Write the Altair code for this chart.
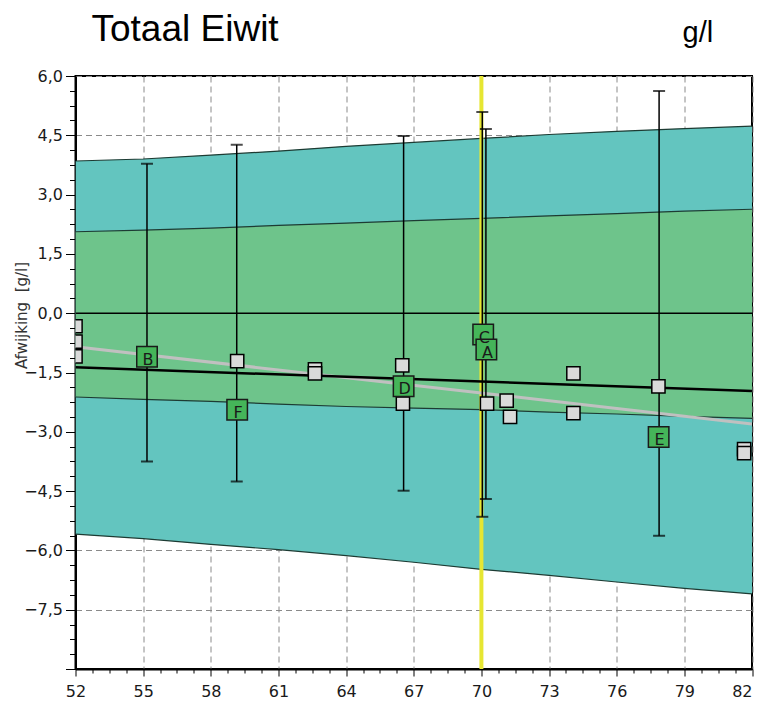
import altair as alt
import pandas as pd

# ---- data ----
band_x = [52, 55, 58, 61, 64, 67, 70, 73, 76, 79, 82]
outer_hi = [3.85, 3.90, 4.00, 4.10, 4.22, 4.32, 4.42, 4.52, 4.60, 4.67, 4.73]
inner_hi = [2.06, 2.10, 2.15, 2.22, 2.28, 2.34, 2.40, 2.46, 2.52, 2.58, 2.63]
inner_lo = [-2.12, -2.18, -2.23, -2.30, -2.36, -2.40, -2.44, -2.50, -2.55, -2.61, -2.66]
outer_lo = [-5.59, -5.70, -5.85, -5.98, -6.13, -6.30, -6.48, -6.63, -6.80, -6.96, -7.10]

trend_x = [52, 82]
trend_black = [-1.37, -1.97]
trend_gray = [-0.85, -2.80]

ref_x = [70]
zero_y = [0]

gray_x = [52.0, 52.0, 52.0, 59.17, 62.62, 62.62, 66.49, 66.52, 70.25, 71.12, 71.27,
          74.08, 74.08, 77.85, 81.65, 81.65]
gray_y = [-0.33, -0.72, -1.09, -1.21, -1.42, -1.52, -1.32, -2.29, -2.29, -2.21, -2.62,
          -1.52, -2.53, -1.85, -3.44, -3.54]

lab_name = ["B", "F", "D", "C", "A", "E"]
lab_x = [55.17, 59.17, 66.55, 70.08, 70.22, 77.86]
lab_y = [-1.10, -2.44, -1.85, -0.54, -0.92, -3.13]
err_x = [55.17, 59.15, 66.55, 70.04, 70.20, 77.88]
err_lo = [-3.75, -4.26, -4.49, -5.15, -4.70, -5.63]
err_hi = [3.78, 4.26, 4.48, 5.09, 4.66, 5.62]

x_ticks = [52 + 0.75 * i for i in range(41)]
y_ticks = [-9 + 0.375 * i for i in range(41)]

# ---- tables ----
band_df = pd.DataFrame({"x": band_x, "ohi": outer_hi, "ihi": inner_hi,
                        "ilo": inner_lo, "olo": outer_lo})
trend_df = pd.DataFrame({"x": trend_x, "yb": trend_black, "yg": trend_gray})
ref_df = pd.DataFrame({"x": ref_x})
zero_df = pd.DataFrame({"y": zero_y})
gray_df = pd.DataFrame({"x": gray_x, "y": gray_y})
lab_df = pd.DataFrame({"name": lab_name, "x": lab_x, "y": lab_y})
err_df = pd.DataFrame({"name": lab_name, "x": err_x, "lo": err_lo, "hi": err_hi})
one_df = pd.DataFrame({"t": ["Totaal Eiwit"], "u": ["g/l"]})

ytitle = "Afwijking\u00a0\u00a0[g/l]"

xmaj = "abs((datum.value-52)/3 - round((datum.value-52)/3)) < 0.001"
ymaj = "abs(datum.value/1.5 - round(datum.value/1.5)) < 0.001"

xaxis = alt.Axis(
    values=x_ticks,
    labelExpr=f"{xmaj} ? format(datum.value, 'd') : ''",
    labelFont="DejaVu Sans", labelFontSize=16, labelColor="#1a1a1a",
    labelPadding=7, labelFlush=False, labelOverlap=False,
    labelAlign={"condition": {"test": "datum.value > 81.9", "value": "right"}, "value": "center"},
    tickColor="black", tickWidth=1,
    tickSize={"condition": {"test": xmaj, "value": 7}, "value": 4},
    domainColor="black", domainWidth=2,
    grid=True, gridColor="#8a8a8a", gridDash=[6, 4], gridWidth=1,
    gridOpacity={"condition": {"test": xmaj, "value": 1}, "value": 0},
)
yaxis = alt.Axis(
    values=y_ticks,
    labelExpr=f"({ymaj}) && datum.value > -8.9 ? replace(format(datum.value, '.1f'), '.', ',') : ''",
    labelFont="DejaVu Sans", labelFontSize=16, labelColor="#1a1a1a",
    labelPadding=3, labelFlush=False, labelOverlap=False,
    tickColor="black", tickWidth=1,
    tickSize={"condition": {"test": ymaj, "value": 10}, "value": 6},
    domainColor="black", domainWidth=2,
    grid=True, gridColor="#8a8a8a", gridDash=[6, 4], gridWidth=1,
    gridOpacity={"condition": {"test": ymaj, "value": 1}, "value": 0},
    title=ytitle, titleFont="DejaVu Sans", titleFontSize=15,
    titleFontWeight="normal", titleColor="#333333",
    titleX=-54, titleY=239, titleBaseline="middle", titleAngle=-90, titleAlign="center",
)
xscale = alt.Scale(domain=[52, 82], nice=False, zero=False)
yscale = alt.Scale(domain=[-9, 6], nice=False, zero=False)


def X(field):
    return alt.X(f"{field}:Q", scale=xscale, axis=xaxis, title=None)


def Y(field):
    return alt.Y(f"{field}:Q", scale=yscale, axis=yaxis, title=ytitle)


outer = alt.Chart(band_df).mark_area(color="#63C5BF", opacity=1, clip=True).encode(
    x=X("x"), y=Y("olo"), y2="ohi:Q")
inner = alt.Chart(band_df).mark_area(color="#6EC48B", opacity=1, clip=True).encode(
    x=X("x"), y=Y("ilo"), y2="ihi:Q")
edges = alt.Chart(band_df).transform_fold(
    ["ohi", "ihi", "ilo", "olo"], as_=["b", "v"]
).mark_line(color="#1d3b33", strokeWidth=1.2, clip=True).encode(
    x=X("x"), y=Y("v"), detail="b:N")
zero = alt.Chart(zero_df).mark_rule(color="black", strokeWidth=1.5, clip=True).encode(
    y=Y("y"))
yellow = alt.Chart(ref_df).mark_rule(color="#E6E632", strokeWidth=4, clip=True).encode(
    x=X("x"))
gline = alt.Chart(trend_df).mark_line(color="#C0C0C0", strokeWidth=3, clip=True).encode(
    x=X("x"), y=Y("yg"))
bline = alt.Chart(trend_df).mark_line(color="black", strokeWidth=2.5, clip=True).encode(
    x=X("x"), y=Y("yb"))
ebar = alt.Chart(err_df).mark_rule(color="black", strokeWidth=1.5, clip=True).encode(
    x=X("x"), y=Y("lo"), y2="hi:Q")
cap_lo = alt.Chart(err_df).mark_tick(orient="horizontal", color="black", size=12,
                                     thickness=2, clip=True).encode(x=X("x"), y=Y("lo"))
cap_hi = alt.Chart(err_df).mark_tick(orient="horizontal", color="black", size=12,
                                     thickness=2, clip=True).encode(x=X("x"), y=Y("hi"))
gpts = alt.Chart(gray_df).mark_square(size=175, fill="#DADADA", stroke="black",
                                      strokeWidth=1.5, opacity=1, fillOpacity=1,
                                      clip=True).encode(x=X("x"), y=Y("y"))
lpts = alt.Chart(lab_df).mark_square(size=420, fill="#45B559", stroke="#1a1a1a",
                                     strokeWidth=1.5, opacity=1, fillOpacity=1,
                                     clip=True).encode(x=X("x"), y=Y("y"))
ltxt = alt.Chart(lab_df).mark_text(font="DejaVu Sans", fontSize=16, color="#1a1a1a",
                                   baseline="middle", dy=3, dx=1, clip=True).encode(
    x=X("x"), y=Y("y"), text="name:N")
title = alt.Chart(one_df).mark_text(font="Liberation Sans", fontSize=37, color="black",
                                    align="left", baseline="alphabetic").encode(
    x=alt.value(16), y=alt.value(-35), text="t:N")
unit = alt.Chart(one_df).mark_text(font="Liberation Sans", fontSize=29, color="black",
                                   align="left", baseline="alphabetic").encode(
    x=alt.value(607), y=alt.value(-34), text="u:N")

chart = alt.layer(
    outer, inner, edges, zero, yellow, gline, bline, ebar, cap_lo, cap_hi,
    gpts, lpts, ltxt, title, unit
).properties(
    width=676.5, height=593,
    padding={"left": 67.5, "top": 68, "right": 2, "bottom": 31},
    autosize=alt.AutoSizeParams(type="none"),
    background="white",
).configure_view(stroke="black", strokeWidth=2)

chart.save("out.html", embed_options={"renderer": "svg", "actions": False})
